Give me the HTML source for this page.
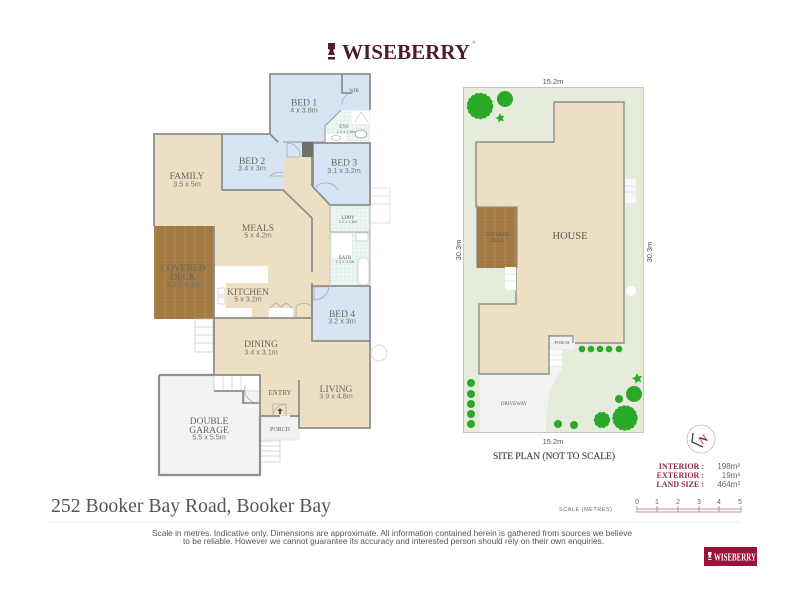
<!DOCTYPE html>
<html><head><meta charset="utf-8"><style>html,body{margin:0;padding:0;background:#fff}svg{display:block}</style></head><body>
<svg width="800" height="600" viewBox="0 0 800 600" xmlns="http://www.w3.org/2000/svg">
<rect width="800" height="600" fill="#fff"/>
<defs>
<pattern id="deck" width="10" height="10" patternUnits="userSpaceOnUse"><rect width="10" height="10" fill="#a67c45"/><path d="M0 2H10M0 5H10M0 8H10" stroke="#966f3b" stroke-width=".6"/><path d="M5 0V10" stroke="#b48e58" stroke-width=".8"/></pattern>
<pattern id="tile" width="4" height="4" patternUnits="userSpaceOnUse"><rect width="4" height="4" fill="#eef6f3"/><path d="M0 0H4M0 0V4" stroke="#c9e5de" stroke-width=".5"/></pattern>
</defs>
<g font-family="Liberation Serif,serif">
<!-- header logo -->
<path d="M328 43h7v6l-2 1 2 5h-7l2-5-2-1z" fill="#4f1c2b"/><rect x="328" y="57" width="7" height="2.5" fill="#4f1c2b"/>
<text x="342" y="59" font-size="21.500" font-weight="bold" fill="#4f1c2b" textLength="128" lengthAdjust="spacingAndGlyphs">WISEBERRY</text>
<text x="472" y="44" font-size="5" fill="#8a6a74">®</text>

<!-- main floor -->
<path d="M154 134H222V190H283V157H312V186L330 205V286H312V341H370V428H299V416H260V375H214V319H214V226H154Z" fill="#ecdfc3"/>
<!-- kitchen white -->
<path d="M215 266H268V283H226V308H252V318H215Z" fill="#fff"/>
<rect x="269" y="308" width="24" height="10" fill="#fff"/>
<!-- blue rooms -->
<path d="M270 74H370V110H341L325 126V142H302V157H283V142L278 142L270 133Z" fill="#d6e4f3"/>
<path d="M222 134H270L278 142H283V190H222Z" fill="#d6e4f3"/>
<path d="M313 143H370V205H330L313 187Z" fill="#d6e4f3"/>
<rect x="312" y="286" width="58" height="55" fill="#d6e4f3"/>
<!-- wet rooms -->
<path d="M341 110H370V142H325V126Z" fill="url(#tile)"/>
<rect x="330" y="205" width="40" height="27" fill="url(#tile)"/>
<rect x="330" y="232" width="40" height="54" fill="url(#tile)"/>
<rect x="332" y="234" width="20" height="24" fill="#fff"/>
<rect x="356" y="233" width="12" height="8" fill="#fff" stroke="#aaa" stroke-width=".5"/>
<rect x="358" y="258" width="11" height="27" rx="4" fill="#fff" stroke="#bbb" stroke-width=".6"/>
<path d="M352 111H369V124H352Z" fill="#fff"/><path d="M361 112L355 122M361 112L368 122" stroke="#aaa" stroke-width=".5"/>
<rect x="326" y="134" width="20" height="8" fill="#fff"/><ellipse cx="336" cy="138" rx="5" ry="2.5" fill="#fff" stroke="#999" stroke-width=".6"/>
<ellipse cx="361" cy="134" rx="6" ry="4" fill="#fff" stroke="#999" stroke-width=".7"/>
<!-- deck -->
<rect x="154" y="226" width="60" height="93" fill="url(#deck)"/>
<!-- garage -->
<path d="M159 375H214V391H243V403H260V475H159Z" fill="#f3f3f3"/>
<!-- porch -->
<rect x="260" y="417" width="39" height="23" fill="#f2f2f2" stroke="#ddd" stroke-width=".6"/>
<!-- stairs -->
<g fill="#fff" stroke="#c9c9c9" stroke-width=".7">
<rect x="195" y="319" width="18" height="33"/><path d="M195 327H213M195 335H213M195 343H213" fill="none"/>
<rect x="260" y="441" width="20" height="21"/><path d="M260 446H280M260 451H280M260 456H280" fill="none"/>
<path d="M371 188H390V223H371M371 196H390M371 204H390" fill="none" stroke="#d8d8d8"/>
<path d="M214 375H260V391H214Z"/><path d="M223 375V391M232 375V391M241 375V391" fill="none"/>
<rect x="244" y="391" width="16" height="12" fill="#f6f3ec"/>
</g>
<!-- walls -->
<g fill="none" stroke="#8f8f8c" stroke-width="1.8">
<path d="M154 226V134H222H270L278 142"/>
<path d="M270 134V74H370V110"/><path d="M342 74V93H352"/>
<path d="M341 110L325 126V142H283" stroke="#a3a3a0" stroke-width="1.2"/>
<path d="M222 134V190H283L312 218V272"/>
<path d="M312 283V318H214V375"/>
<path d="M312 186V157M313 143V187L330 205H370V143H313"/>
<path d="M312 286H370V341H312Z"/>
<path d="M214 226V318"/>
<path d="M370 341V428H299V380"/>
<path d="M260 416H280M290 416H299"/>
<path d="M214 375H260V416M214 391H243V403H260"/>
<path d="M159 375H214M159 375V475H260V416" stroke-width="2.200"/>
</g>
<path d="M330 205V232H370" fill="none" stroke="#b8b8b5" stroke-width="1.200"/>
<path d="M330 232V286" stroke="#c8c8c5" stroke-width="1"/>
<path d="M370 205V286" stroke="#c4c4c2" stroke-width="1.400"/>
<rect x="302" y="142" width="11" height="15" fill="#6f6f6e"/>
<!-- doors -->
<g fill="none" stroke="#9a9a9a" stroke-width=".6">
<path d="M342 93H353A11 11 0 0 0 342 104"/>
<path d="M287 143V157H300A13 13 0 0 0 287 143"/>
<path d="M283 176H270A13 13 0 0 1 283 173"/>
<path d="M316 187A14 14 0 0 1 338 190"/>
<path d="M314 300V287H329A15 15 0 0 1 314 300"/>
<path d="M296 318V306A14 14 0 0 1 312 306"/>
<path d="M244 391V403H258"/><path d="M245 386A14 14 0 0 0 258 403"/>
<path d="M273 416V404H286V416"/><path d="M273 416A13 13 0 0 1 286 404"/>
<path d="M269 308L276 303L281 307L286 303L293 308"/>
</g>
<path d="M279 414V411H277L280 408L283 411H281V414Z" fill="#555"/>
<circle cx="379" cy="353" r="8" fill="#fff" stroke="#ccc" stroke-width=".7"/>
<rect x="218" y="288" width="7" height="7" fill="#fff" stroke="#aaa" stroke-width=".5"/><rect x="218" y="297" width="7" height="7" fill="#fff" stroke="#aaa" stroke-width=".5"/>
<!-- room labels -->
<g text-anchor="middle" fill="#66665e" font-size="9.500">
<text x="304" y="105.500">BED 1</text>
<text x="187" y="179">FAMILY</text>
<text x="252" y="164">BED 2</text>
<text x="344" y="165.500">BED 3</text>
<text x="258" y="231">MEALS</text>
<text x="183" y="271">COVERED</text><text x="183" y="280">DECK</text>
<text x="248" y="295">KITCHEN</text>
<text x="342" y="317">BED 4</text>
<text x="261" y="347">DINING</text>
<text x="336" y="392">LIVING</text>
<text x="280" y="395" font-size="7">ENTRY</text>
<text x="280" y="431" font-size="6">PORCH</text>
<text x="209" y="424">DOUBLE</text><text x="209" y="433">GARAGE</text>
<text x="344" y="128" font-size="5">ENS</text>
<text x="354" y="92" font-size="5">WIR</text>
<text x="348" y="219" font-size="5">LDRY</text>
<text x="345" y="259" font-size="5">BATH</text>
</g>
<g text-anchor="middle" fill="#74746c" font-size="7.200" font-family="Liberation Sans,sans-serif">
<text x="304" y="112.500">4 x 3.8m</text><text x="187" y="186.500">3.5 x 5m</text><text x="252" y="170.500">3.4 x 3m</text>
<text x="344" y="173">3.1 x 3.2m</text><text x="258" y="237.500">5 x 4.2m</text><text x="183" y="287">3.3 x 4.8m</text>
<text x="248" y="301.500">5 x 3.2m</text><text x="342" y="323.500">3.2 x 3m</text><text x="261" y="354.500">3.4 x 3.1m</text>
<text x="336" y="398.500">3.9 x 4.8m</text><text x="209" y="439.500">5.5 x 5.5m</text>
<text x="346" y="133" font-size="4">2.4 x 1.8m</text><text x="348" y="223" font-size="4">2.2 x 1.8m</text><text x="345" y="263" font-size="4">2.2 x 3.1m</text>
</g>

<!-- site plan -->
<rect x="463.500" y="87.500" width="180" height="345" fill="#e5ecdc" stroke="#c4c9bd" stroke-width="1"/>
<path d="M480 374H549V350H562V370C552 382 547 392 546 432H480Z" fill="#f3f3f3"/>
<path d="M554 102H624V343H573V336H549V374H479V304H516V267H477V206H476V142H554Z" fill="#ecdfc3" stroke="#8f8f8c" stroke-width="1.400"/>
<rect x="477" y="207" width="40" height="61" fill="url(#deck)"/>
<path d="M517 268V207H476V142" fill="none" stroke="#8f8f8c" stroke-width="1.200"/>
<rect x="505" y="267" width="11" height="23" fill="#fff"/><path d="M505 274H516M505 281H516" stroke="#ccc" stroke-width=".6"/>
<rect x="625" y="179" width="11" height="24" fill="#f7f7f7"/><path d="M625 186H636M625 192H636" stroke="#ccc" stroke-width=".6"/>
<rect x="550" y="336" width="25" height="13" fill="#f2f2f2"/>
<path d="M549 336H573V343" fill="none" stroke="#8f8f8c" stroke-width="1.300"/>
<rect x="550" y="350" width="12" height="15" fill="#fff"/><path d="M550 355H562M550 360H562" stroke="#ccc" stroke-width=".6"/>
<circle cx="631" cy="291" r="5" fill="#fff"/>
<!-- trees -->
<g fill="#2aa928">
<circle cx="480" cy="106" r="12.500"/><circle cx="505" cy="99" r="8"/>
<circle cx="582" cy="349" r="3.300"/><circle cx="591" cy="349" r="3.300"/><circle cx="600" cy="349" r="3.300"/><circle cx="609" cy="349" r="3.300"/><circle cx="619" cy="349" r="3.300"/>
<circle cx="471" cy="383" r="4"/><circle cx="471" cy="394" r="4"/><circle cx="471" cy="404" r="4"/><circle cx="471" cy="414" r="4"/><circle cx="471" cy="424" r="4"/>
<circle cx="634" cy="394" r="8"/><circle cx="619" cy="399" r="4"/><circle cx="625" cy="418" r="12"/><circle cx="602" cy="420" r="7.500"/><circle cx="574" cy="425" r="4"/><circle cx="558" cy="424" r="4"/>
<path d="M500 113l1.300 3 3.200-.4-2 2.600 1.500 3-3.200-1-2.300 2.300-.2-3.200-3-1.400 3-1.200z"/>
<path d="M637 373l1.500 3.400 3.700-.5-2.300 3 1.700 3.400-3.600-1.200-2.600 2.600-.2-3.700-3.400-1.600 3.400-1.400z"/>
</g>
<g fill="none" stroke="#2aa928" stroke-width="1.400" stroke-dasharray="2 2.500" stroke-linecap="round">
<circle cx="480" cy="106" r="12.500"/><circle cx="625" cy="418" r="12"/><circle cx="602" cy="420" r="7.500"/>
</g>
<g text-anchor="middle" fill="#5a5a52">
<text x="570" y="239" font-size="10.500">HOUSE</text>
<text x="497" y="236" font-size="5">COVERED</text><text x="497" y="242" font-size="5">DECK</text>
<text x="562" y="344" font-size="4.500">PORCH</text>
<text x="514" y="405" font-size="5">DRIVEWAY</text>
<text x="554" y="459" font-size="9.500" fill="#444" stroke="#444" stroke-width=".15" textLength="122" lengthAdjust="spacingAndGlyphs">SITE PLAN (NOT TO SCALE)</text>
</g>
<g font-family="Liberation Sans,sans-serif" fill="#555" font-size="7.500" text-anchor="middle">
<text x="553" y="84">15.2m</text><text x="553" y="444">15.2m</text>
<text transform="translate(461 250) rotate(-90)">30.3m</text>
<text transform="translate(652 252) rotate(-90)">30.3m</text>
</g>

<!-- north + stats -->
<circle cx="701" cy="439" r="14" fill="#fff" stroke="#c9b3ba" stroke-width=".8"/>
<path d="M693 433L692 442L703 447" fill="none" stroke="#444" stroke-width="1.300"/>
<text x="703" y="443" font-size="11" font-weight="bold" fill="#8f2440" text-anchor="middle" transform="rotate(-35 703 439)">N</text>
<g fill="#8f2d48" font-size="8" font-weight="bold" text-anchor="end">
<text x="704" y="469">INTERIOR :</text><text x="704" y="478">EXTERIOR :</text><text x="704" y="487">LAND SIZE :</text>
</g>
<g font-family="Liberation Sans,sans-serif" fill="#666" font-size="8" text-anchor="end">
<text x="740" y="469">198m²</text><text x="740" y="478">19m²</text><text x="740" y="487">464m²</text>
</g>
<text x="559" y="511" font-family="Liberation Sans,sans-serif" font-size="5.500" fill="#666" textLength="53" lengthAdjust="spacing">SCALE (METRES)</text>
<g font-family="Liberation Sans,sans-serif" font-size="7" fill="#666" text-anchor="middle">
<text x="637" y="504">0</text><text x="657" y="504">1</text><text x="678" y="504">2</text><text x="699" y="504">3</text><text x="719" y="504">4</text><text x="740" y="504">5</text>
</g>
<path d="M637 506V512H741V506M657 506V512M678 506V512M699 506V512M719 506V512M637 509H741" fill="none" stroke="#a6707f" stroke-width=".7"/>

<!-- footer -->
<text x="51" y="512" font-size="20" fill="#555" textLength="280" lengthAdjust="spacingAndGlyphs">252 Booker Bay Road, Booker Bay</text>
<path d="M50 522H740" stroke="#eee" stroke-width="1"/>
<g font-family="Liberation Sans,sans-serif" font-size="8.200" fill="#555">
<text x="152" y="536" textLength="480" lengthAdjust="spacingAndGlyphs">Scale in metres. Indicative only. Dimensions are approximate. All information contained herein is gathered from sources we believe</text>
<text x="183" y="544" textLength="421" lengthAdjust="spacingAndGlyphs">to be reliable. However we cannot guarantee its accuracy and interested person should rely on their own enquiries.</text>
</g>
<rect x="704" y="547" width="53" height="19" fill="#9b1238"/>
<path d="M708 552h3.500v3l-1 .6 1 2h-3.500l1-2-1-.6z" fill="#fff"/><rect x="708" y="559" width="3.500" height="1" fill="#fff"/>
<text x="714" y="560.500" font-size="10" font-weight="bold" fill="#fff" textLength="42" lengthAdjust="spacingAndGlyphs">WISEBERRY</text>
</g>
</svg>
</body></html>
